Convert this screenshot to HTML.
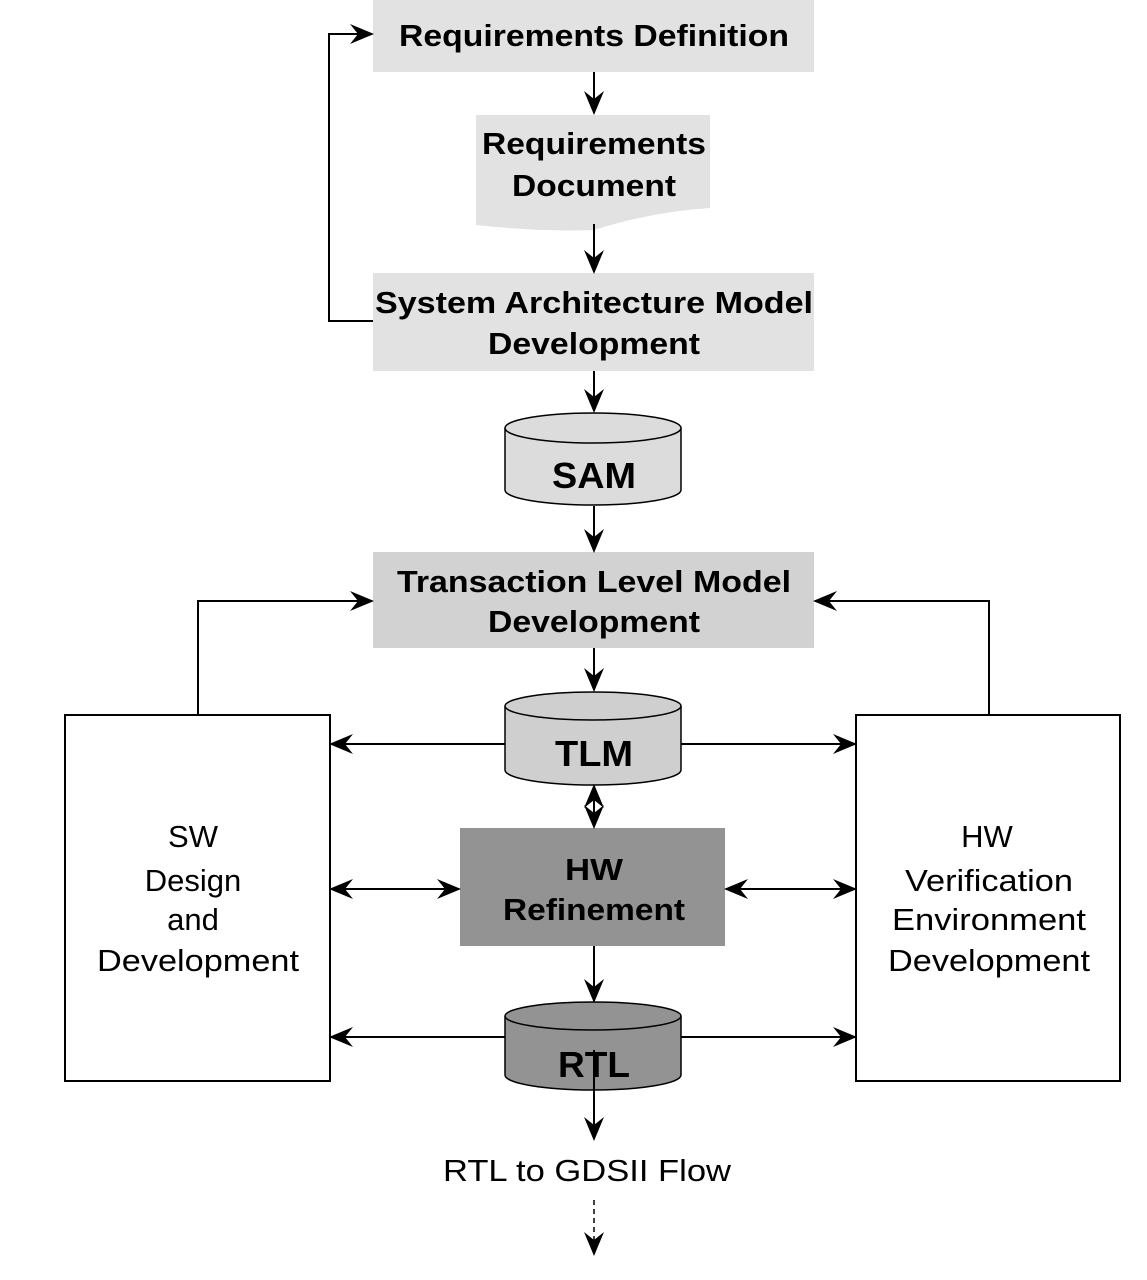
<!DOCTYPE html>
<html><head><meta charset="utf-8"><style>body{margin:0;background:#fff}svg{display:block}</style></head>
<body>
<svg width="1147" height="1280" viewBox="0 0 1147 1280" xmlns="http://www.w3.org/2000/svg" font-family="Liberation Sans, Arial, sans-serif">
<defs>
<marker id="a" viewBox="0 0 12 10" refX="11" refY="5" markerWidth="12" markerHeight="10" markerUnits="userSpaceOnUse" orient="auto-start-reverse">
<path d="M0,0 L12,5 L0,10 L4,5 z" fill="#000"/>
</marker>
<marker id="b" viewBox="0 0 12 10" refX="11" refY="5" markerWidth="24" markerHeight="20" markerUnits="userSpaceOnUse" orient="auto-start-reverse">
<path d="M0,0 L12,5 L0,10 L4,5 z" fill="#000"/>
</marker>
</defs>
<g stroke="#000" stroke-width="2" fill="none">
<!-- boxes -->
<rect x="373" y="0" width="441" height="72" fill="#e2e2e2" stroke="none"/>
<path d="M476,115 H710 V208 Q650,212 594,230 Q540,232 476,225 Z" fill="#e2e2e2" stroke="none"/>
<rect x="373" y="273" width="441" height="98" fill="#e2e2e2" stroke="none"/>
<rect x="373" y="552" width="441" height="96" fill="#d2d2d2" stroke="none"/>
<rect x="460" y="828" width="265" height="118" fill="#939393" stroke="none"/>
<rect x="65" y="715" width="265" height="366" fill="#fff"/>
<rect x="856" y="715" width="264" height="366" fill="#fff"/>
<!-- cylinders -->
<path d="M505,428 V490 A88,15 0 0 0 681,490 V428" fill="#dcdcdc" stroke-width="1.5"/>
<ellipse cx="593" cy="428" rx="88" ry="15" fill="#dcdcdc" stroke-width="1.5"/>
<path d="M505,706 V770 A88,15 0 0 0 681,770 V706" fill="#cfcfcf" stroke-width="1.5"/>
<ellipse cx="593" cy="706" rx="88" ry="14" fill="#cfcfcf" stroke-width="1.5"/>
<path d="M505,1016 V1075 A88,15 0 0 0 681,1075 V1016" fill="#939393" stroke-width="1.5"/>
<ellipse cx="593" cy="1016" rx="88" ry="14" fill="#939393" stroke-width="1.5"/>
<!-- arrows -->
<g marker-end="url(#b)">
<line x1="594" y1="72" x2="594" y2="113"/>
<line x1="594" y1="224" x2="594" y2="272"/>
<line x1="594" y1="371" x2="594" y2="411"/>
<line x1="594" y1="506" x2="594" y2="551"/>
<line x1="594" y1="648" x2="594" y2="690"/>
<line x1="594" y1="946" x2="594" y2="1001"/>
<line x1="594" y1="1050" x2="594" y2="1139"/>
<line x1="505" y1="744" x2="331" y2="744"/>
<line x1="681" y1="744" x2="855" y2="744"/>
<line x1="505" y1="1037" x2="331" y2="1037"/>
<line x1="681" y1="1037" x2="855" y2="1037"/>
<polyline points="373,321 329,321 329,34 372,34"/>
<polyline points="198,715 198,601 372,601"/>
<polyline points="989,715 989,601 815,601"/>
</g>
<g marker-start="url(#b)" marker-end="url(#b)">
<line x1="331" y1="889" x2="459" y2="889"/>
<line x1="726" y1="889" x2="855" y2="889"/>
<line x1="594" y1="786" x2="594" y2="827"/>
</g>
<line x1="594" y1="1200" x2="594" y2="1254" stroke-width="1.5" stroke-dasharray="5,4" marker-end="url(#b)"/>
</g>
<g font-weight="bold" font-size="31" text-anchor="middle" fill="#000">
<text x="594" y="46" textLength="390" lengthAdjust="spacingAndGlyphs">Requirements Definition</text>
<text x="594" y="154" textLength="224" lengthAdjust="spacingAndGlyphs">Requirements</text>
<text x="594" y="196" textLength="164" lengthAdjust="spacingAndGlyphs">Document</text>
<text x="594" y="313" textLength="438" lengthAdjust="spacingAndGlyphs">System Architecture Model</text>
<text x="594" y="354" textLength="212" lengthAdjust="spacingAndGlyphs">Development</text>
<text x="594" y="488" font-size="36" textLength="84" lengthAdjust="spacingAndGlyphs">SAM</text>
<text x="594" y="592" textLength="394" lengthAdjust="spacingAndGlyphs">Transaction Level Model</text>
<text x="594" y="632" textLength="212" lengthAdjust="spacingAndGlyphs">Development</text>
<text x="594" y="766" font-size="36" textLength="78" lengthAdjust="spacingAndGlyphs">TLM</text>
<text x="594" y="880" textLength="58" lengthAdjust="spacingAndGlyphs">HW</text>
<text x="594" y="920" textLength="182" lengthAdjust="spacingAndGlyphs">Refinement</text>
<text x="594" y="1077" font-size="36" textLength="72" lengthAdjust="spacingAndGlyphs">RTL</text>
</g>
<g font-size="31" text-anchor="middle" fill="#000">
<text x="193" y="847">SW</text>
<text x="193" y="891">Design</text>
<text x="193" y="930">and</text>
<text x="198" y="971" textLength="202" lengthAdjust="spacingAndGlyphs">Development</text>
<text x="987" y="847">HW</text>
<text x="989" y="891" textLength="168" lengthAdjust="spacingAndGlyphs">Verification</text>
<text x="989" y="930" textLength="194" lengthAdjust="spacingAndGlyphs">Environment</text>
<text x="989" y="971" textLength="202" lengthAdjust="spacingAndGlyphs">Development</text>
<text x="587" y="1181" textLength="288" lengthAdjust="spacingAndGlyphs">RTL to GDSII Flow</text>
</g>
</svg>
</body></html>
